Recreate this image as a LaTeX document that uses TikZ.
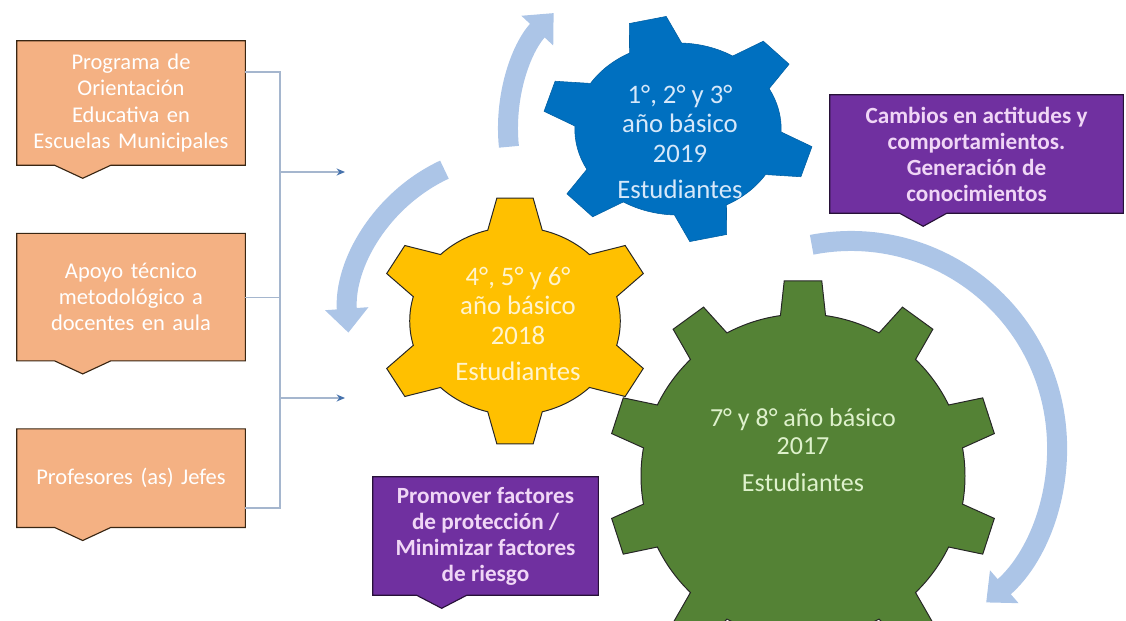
\documentclass[tikz,border=0pt]{standalone}
\usepackage{fontspec}
\setmainfont{Carlito}
\usepackage{tikz}
\usetikzlibrary{arrows.meta, positioning, calc, backgrounds}
\definecolor{planorange}{RGB}{244,177,131}
\definecolor{gearblue}{RGB}{0,112,192}
\definecolor{gearyellow}{RGB}{255,192,0}
\definecolor{geargreen}{RGB}{84,130,53}
\definecolor{goalpurple}{RGB}{112,48,160}
\definecolor{goaltext}{RGB}{240,214,246}
\definecolor{bluetext}{RGB}{214,232,250}
\definecolor{yellowtext}{RGB}{255,244,206}
\definecolor{greentext}{RGB}{222,241,204}
\definecolor{cyclecolor}{RGB}{172,197,231}
\definecolor{bracketgray}{RGB}{165,182,206}
\definecolor{bracketblue}{RGB}{70,114,172}

% gear outline round the origin: style, teeth, inner r, outer r, first tooth, half base, half tip
\newcommand{\drawgear}[7]{%
  \draw[#1] (#5-#6:#3)
    \foreach \k [evaluate=\k as \ang using #5+(\k-1)*360/#2] in {1,...,#2} {
      -- (\ang-#7:#4) -- (\ang+#7:#4) -- (\ang+#6:#3)
      arc[start angle=\ang+#6, end angle=\ang+360/#2-#6, radius=#3]
    } -- cycle;}

% callout frame behind a node: node, pointer start, pointer width, style
\newcommand{\callout}[4]{%
  \begin{scope}[on background layer]
    \draw[#4] (#1.north west) -- (#1.north east) -- (#1.south east)
      -- ($(#1.south west)+(#2+#3,0)$) -- ($(#1.south west)+(#2+#3/2,-13)$)
      -- ($(#1.south west)+(#2,0)$) -- (#1.south west) -- cycle;
  \end{scope}}

\begin{document}
\begin{tikzpicture}[
    x=0.025cm, y=0.025cm,
    node distance=1.7cm,
    plan/.style={text=white, align=center, text width=5.4cm, inner sep=0.15cm,
                 font=\fontsize{16}{18.5}\selectfont},
    planframe/.style={fill=planorange, draw=black!70!brown, line width=0.8pt},
    goal/.style={text=goaltext, align=center, inner sep=0.15cm,
                 minimum height=2.95cm, font=\fontsize{16.5}{18.5}\selectfont\bfseries},
    goalframe/.style={fill=goalpurple, draw=goalpurple!35!black, line width=0.8pt},
    geartext/.style={align=center, font=\fontsize{19}{21}\selectfont},
    gearline/.style={draw=black!85, line width=0.7pt},
    rotarrow/.style={cyclecolor, line width=0.5cm, -{Triangle[width=1.05cm, length=0.6cm]}},
    link/.style={bracketgray, line width=0.8pt},
    linkarr/.style={link, -{Stealth[length=6pt, width=5pt, color=bracketblue]}}
  ]
  \useasboundingbox (0,0) rectangle (1126,620);

  %% Programa
  \node[plan, minimum height=3.1cm] (b1) at (131,517) {Programa de\\Orientación\\Educativa en\\Escuelas Municipales};
  \node[plan, minimum height=3.175cm, below=of b1] (b2) {Apoyo técnico\\metodológico a\\docentes en aula};
  \node[plan, minimum height=2.45cm, below=of b2] (b3) {Profesores (as) Jefes};
  \callout{b1}{38}{56}{planframe}
  \callout{b2}{38}{56}{planframe}
  \callout{b3}{38}{56}{planframe}

  \coordinate (jt) at (280,548);
  \coordinate (jb) at (280,112);
  \coordinate (in1) at (345,448);
  \coordinate (in2) at (345,222);
  \draw[link] (b1.east |- jt) -- (jt) -- (jb) -- (b3.east |- jb);
  \draw[link] (b2.east) -- (b2.east -| jt);
  \draw[linkarr] (jt |- in1) -- (in1);
  \draw[linkarr] (jt |- in2) -- (in2);

  %% Ciclo
  \coordinate (c19) at (678,491);
  \coordinate (c18) at (515,299);
  \coordinate (c17) at (803,144);
  \coordinate (cturn) at (851,173);
  \draw[rotarrow] ([shift={(186:170)}]c19) arc[start angle=186, end angle=137, radius=170];
  \draw[rotarrow] ([shift={(115:167)}]c18) arc[start angle=115, end angle=184, radius=167];
  \draw[rotarrow] ([shift={(101:206)}]cturn) arc[start angle=101, end angle=-49, radius=206];

  \begin{scope}[shift={(c18)}, xscale=1.12]
    \drawgear{gearline, fill=gearyellow}{6}{94}{124}{30}{15}{7.5}
  \end{scope}
  \begin{scope}[shift={(c19)}, xscale=1.2]
    \drawgear{draw=gearblue!85!black, fill=gearblue}{6}{86}{113}{43}{15}{8}
  \end{scope}
  \begin{scope}[shift={(c17)}]
    \drawgear{gearline, fill=geargreen}{10}{162}{196}{90}{8}{5.5}
  \end{scope}

  \node[geartext, text=bluetext] (g19) at (680,478) {1°, 2° y 3°\\año básico\\2019\\[5pt]Estudiantes};
  \node[geartext, text=yellowtext] (g18) at (518,296) {4°, 5° y 6°\\año básico\\2018\\[5pt]Estudiantes};
  \node[geartext, text=greentext, font=\fontsize{18.5}{20}\selectfont] (g17) at (803,170) {7° y 8° año básico\\2017\\[6pt]Estudiantes};

  %% Resultados
  \node[goal, minimum width=7.325cm] (p1) at (976.5,466) {Cambios en actitudes y\\comportamientos.\\Generación de\\conocimientos};
  \node[goal, minimum width=5.625cm] (p2) at (485.5,84) {Promover factores\\de protección /\\Minimizar factores\\de riesgo};
  \callout{p1}{70}{47}{goalframe}
  \callout{p2}{44}{50}{goalframe}
\end{tikzpicture}
\end{document}
